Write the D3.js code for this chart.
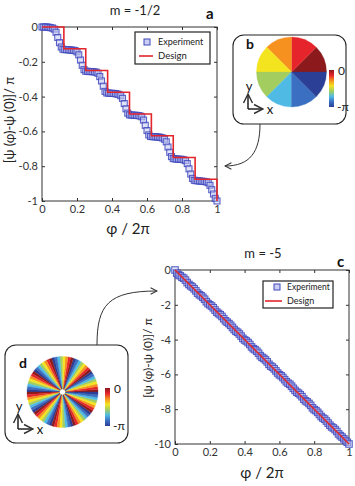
<!DOCTYPE html>
<html><head><meta charset="utf-8">
<script src="https://cdn.jsdelivr.net/npm/d3@7"></script>
<style>
html,body{margin:0;padding:0;background:#fff;}
svg{display:block;font-family:Lato,"Open Sans",sans-serif;}
</style></head><body>
<svg id="fig" width="355" height="486"></svg>
<script>
// ---------- data ----------
const phiExp = [0,0.01,0.02,0.03,0.04,0.05,0.06,0.07,0.08,0.09,0.1,0.11,0.12,0.13,0.14,0.15,0.16,0.17,0.18,0.19,0.2,0.21,0.22,0.23,0.24,0.25,0.26,0.27,0.28,0.29,0.3,0.31,0.32,0.33,0.34,0.35,0.36,0.37,0.38,0.39,0.4,0.41,0.42,0.43,0.44,0.45,0.46,0.47,0.48,0.49,0.5,0.51,0.52,0.53,0.54,0.55,0.56,0.57,0.58,0.59,0.6,0.61,0.62,0.63,0.64,0.65,0.66,0.67,0.68,0.69,0.7,0.71,0.72,0.73,0.74,0.75,0.76,0.77,0.78,0.79,0.8,0.81,0.82,0.83,0.84,0.85,0.86,0.87,0.88,0.89,0.9,0.91,0.92,0.93,0.94,0.95,0.96,0.97,0.98,0.99,1];
const expA = [0,0,0,0,-0.002,-0.004,-0.006,-0.012,-0.03,-0.06,-0.09,-0.115,-0.128,-0.13,-0.13,-0.131,-0.132,-0.133,-0.134,-0.136,-0.143,-0.16,-0.19,-0.22,-0.245,-0.254,-0.255,-0.256,-0.256,-0.257,-0.258,-0.26,-0.266,-0.285,-0.31,-0.34,-0.37,-0.379,-0.38,-0.381,-0.381,-0.382,-0.383,-0.385,-0.388,-0.395,-0.41,-0.44,-0.47,-0.495,-0.505,-0.506,-0.507,-0.507,-0.508,-0.509,-0.511,-0.516,-0.535,-0.565,-0.595,-0.62,-0.629,-0.63,-0.631,-0.631,-0.632,-0.633,-0.635,-0.638,-0.645,-0.66,-0.69,-0.72,-0.745,-0.756,-0.758,-0.759,-0.76,-0.76,-0.761,-0.763,-0.768,-0.785,-0.815,-0.845,-0.87,-0.881,-0.883,-0.884,-0.885,-0.886,-0.887,-0.888,-0.89,-0.895,-0.91,-0.935,-0.96,-0.985,-1];
const designAX = [0,0.125,0.25,0.375,0.5,0.625,0.75,0.875,1];
const designAY = [0,-0.125,-0.25,-0.375,-0.5,-0.625,-0.75,-0.875,-1];

const expC = [0,-0.18,-0.28,-0.33,-0.42,-0.47,-0.58,-0.72,-0.83,-0.91,-0.98,-1.08,-1.2,-1.33,-1.42,-1.48,-1.57,-1.68,-1.82,-1.93,-2.0,-2.07,-2.17,-2.3,-2.42,-2.5,-2.57,-2.67,-2.8,-2.92,-3.0,-3.08,-3.18,-3.3,-3.42,-3.52,-3.58,-3.68,-3.8,-3.93,-4.02,-4.08,-4.17,-4.28,-4.42,-4.52,-4.58,-4.67,-4.78,-4.92,-5.02,-5.08,-5.17,-5.28,-5.42,-5.52,-5.58,-5.68,-5.8,-5.92,-6.02,-6.08,-6.18,-6.3,-6.42,-6.51,-6.57,-6.68,-6.8,-6.92,-7.02,-7.08,-7.17,-7.28,-7.42,-7.52,-7.58,-7.67,-7.78,-7.92,-8.02,-8.08,-8.18,-8.3,-8.42,-8.51,-8.57,-8.68,-8.8,-8.92,-9.02,-9.08,-9.17,-9.28,-9.42,-9.52,-9.6,-9.7,-9.8,-9.9,-10];
const designCX = [0,1];
const designCY = [0,-10];

const xTicks = [0,0.2,0.4,0.6,0.8,1];
const xTickLabels = ["0","0.2","0.4","0.6","0.8","1"];
const aYTicks = [0,-0.2,-0.4,-0.6,-0.8,-1];
const aYTickLabels = ["0","-0.2","-0.4","-0.6","-0.8","-1"];
const cYTicks = [0,-2,-4,-6,-8,-10];
const cYTickLabels = ["0","-2","-4","-6","-8","-10"];
const seriesNames = ["Experiment","Design"];

// phase levels (0 .. -pi) of the 8-level wheel, counter-clockwise from +x
const wheelLevels = [0,1,2,3,4,5,6,7];
const wheelColors = ["#8c1a1c","#e5242b","#f6901f","#f4e41f","#a3cd5f","#4fbbe4","#3b6fc2","#2b3f96"];
const jetStops = ["#8c1a1c","#e5242b","#f6901f","#f4e41f","#a3cd5f","#4fbbe4","#3b6fc2","#2b3f96"];
const wheelDCycles = 10;

// ---------- styles ----------
const RED = "#e3262b";
const MK_STROKE = "#3f48bd";
const MK_FILL = "#c9cef2";
const AX = "#333";

const svg = d3.select("#fig");
const defs = svg.append("defs");
defs.append("marker").attr("id","arr").attr("viewBox","0 0 10 10").attr("refX",9).attr("refY",5)
  .attr("markerWidth",8).attr("markerHeight",8).attr("orient","auto-start-reverse")
  .append("path").attr("d","M1,1 L9,5 L1,9").attr("fill","none").attr("stroke",AX).attr("stroke-width",1.3);
const grad = defs.append("linearGradient").attr("id","jet").attr("x1",0).attr("y1",0).attr("x2",0).attr("y2",1);
jetStops.forEach((c,i)=>grad.append("stop").attr("offset",i/(jetStops.length-1)).attr("stop-color",c));

function panel(cfg){
  const x = d3.scaleLinear().domain([0,1]).range([cfg.left,cfg.right]);
  const y = d3.scaleLinear().domain(cfg.yDomain).range([cfg.bottom,cfg.top]);
  const g = svg.append("g");
  g.append("rect").attr("x",cfg.left).attr("y",cfg.top).attr("width",cfg.right-cfg.left).attr("height",cfg.bottom-cfg.top)
    .attr("fill","none").attr("stroke",AX).attr("stroke-width",1);
  const fs = cfg.tickFont;
  const bx = g.append("g").attr("transform",`translate(0,${cfg.bottom})`)
    .call(d3.axisBottom(x).tickValues(xTicks).tickFormat((d,i)=>xTickLabels[i]).tickSizeInner(-3).tickSizeOuter(0).tickPadding(4));
  const lx = g.append("g").attr("transform",`translate(${cfg.left},0)`)
    .call(d3.axisLeft(y).tickValues(cfg.yTicks).tickFormat((d,i)=>cfg.yTickLabels[i]).tickSizeInner(-3).tickSizeOuter(0).tickPadding(4));
  const tx = g.append("g").attr("transform",`translate(0,${cfg.top})`)
    .call(d3.axisTop(x).tickValues(xTicks).tickFormat("").tickSizeInner(-3).tickSizeOuter(0));
  const rx = g.append("g").attr("transform",`translate(${cfg.right},0)`)
    .call(d3.axisRight(y).tickValues(cfg.yTicks).tickFormat("").tickSizeInner(-3).tickSizeOuter(0));
  [bx,lx,tx,rx].forEach(a=>{a.select(".domain").remove();a.selectAll("line").attr("stroke",AX);
    a.selectAll("text").attr("font-size",fs).attr("fill","#333").attr("font-family","Lato, sans-serif");});
  const s = cfg.mk;
  g.append("g").selectAll("rect").data(phiExp.map((p,i)=>[p,cfg.exp[i]])).join("rect")
    .attr("x",d=>x(d[0])-s/2).attr("y",d=>y(d[1])-s/2).attr("width",s).attr("height",s)
    .attr("fill",MK_FILL).attr("fill-opacity",0.55).attr("stroke",MK_STROKE).attr("stroke-opacity",0.85).attr("stroke-width",1.1);
  const line = d3.line().x(d=>x(d[0])).y(d=>y(d[1])).curve(cfg.curve);
  g.append("path").datum(cfg.desX.map((p,i)=>[p,cfg.desY[i]])).attr("d",line)
    .attr("fill","none").attr("stroke",RED).attr("stroke-width",1.6);
  g.append("text").attr("x",cfg.title[1]).attr("y",cfg.title[2]).attr("text-anchor","middle")
    .attr("font-size",13).attr("fill","#222").text(cfg.title[0]);
  g.append("text").attr("x",cfg.letter[1]).attr("y",cfg.letter[2])
    .attr("font-size",15).attr("font-weight","bold").attr("fill","#111").text(cfg.letter[0]);
  g.append("text").attr("x",cfg.xlab[0]).attr("y",cfg.xlab[1]).attr("text-anchor","middle")
    .attr("font-size",15).attr("fill","#222").text("φ / 2π");
  g.append("text").attr("transform",`translate(${cfg.ylab[0]},${cfg.ylab[1]}) rotate(-90)`).attr("text-anchor","middle")
    .attr("font-size",cfg.ylab[2]).attr("fill","#222").text("[ψ (φ)-ψ (0)]/ π");
  const L = cfg.legend;
  g.append("rect").attr("x",L.x).attr("y",L.y).attr("width",L.w).attr("height",L.h)
    .attr("fill","#fff").attr("stroke","#222").attr("stroke-width",1.2);
  g.append("rect").attr("x",L.mx-3).attr("y",L.my1-3).attr("width",6).attr("height",6)
    .attr("fill",MK_FILL).attr("stroke",MK_STROKE);
  g.append("line").attr("x1",L.lx1).attr("x2",L.lx2).attr("y1",L.my2).attr("y2",L.my2).attr("stroke",RED).attr("stroke-width",1.6);
  g.append("text").attr("x",L.tx).attr("y",L.my1).attr("dy","0.35em").attr("font-size",L.fs).attr("fill","#222").text(seriesNames[0]);
  g.append("text").attr("x",L.tx).attr("y",L.my2).attr("dy","0.35em").attr("font-size",L.fs+0.5).attr("fill","#222").text(seriesNames[1]);
}

panel({left:42,right:217,top:27,bottom:201,yDomain:[-1,0],yTicks:aYTicks,yTickLabels:aYTickLabels,
  exp:expA,desX:designAX,desY:designAY,curve:d3.curveStepAfter,mk:6,tickFont:11,
  title:["m = -1/2",135,15],letter:["a",206,19],xlab:[128,234],ylab:[14,120,13],
  legend:{x:135,y:32,w:75,h:32,mx:147,my1:42,my2:56,lx1:139,lx2:153,tx:158,fs:9}});

panel({left:175,right:349,top:270,bottom:444,yDomain:[-10,0],yTicks:cYTicks,yTickLabels:cYTickLabels,
  exp:expC,desX:designCX,desY:designCY,curve:d3.curveLinear,mk:6.5,tickFont:11,
  title:["m = -5",263,258],letter:["c",337,267],xlab:[262,478],ylab:[152,358,12],
  legend:{x:263,y:281,w:70,h:27,mx:277,my1:287,my2:301,lx1:265,lx2:282,tx:287,fs:8.5}});

function inset(cfg){
  const g = svg.append("g");
  g.append("rect").attr("x",cfg.box[0]).attr("y",cfg.box[1]).attr("width",cfg.box[2]).attr("height",cfg.box[3])
    .attr("rx",11).attr("fill","#fff").attr("stroke","#222").attr("stroke-width",1.1);
  const n = cfg.sectors;
  const step = 2*Math.PI/n;
  const arc = d3.arc().innerRadius(cfg.inner).outerRadius(cfg.r);
  const wg = g.append("g").attr("transform",`translate(${cfg.cx},${cfg.cy})`);
  d3.range(n).forEach(k=>{
    const lvl = wheelLevels[k % wheelLevels.length];
    wg.append("path").attr("d",arc({startAngle:Math.PI/2-(k+1)*step,endAngle:Math.PI/2-k*step}))
      .attr("fill",wheelColors[lvl]).attr("stroke",wheelColors[lvl]).attr("stroke-width",0.3);
  });
  g.append("text").attr("x",cfg.letter[0]).attr("y",cfg.letter[1]).attr("font-size",14).attr("font-weight","bold").attr("fill","#111").text(cfg.letter[2]);
  g.append("rect").attr("x",cfg.cb[0]).attr("y",cfg.cb[1]).attr("width",5).attr("height",cfg.cb[2]).attr("fill","url(#jet)");
  g.append("text").attr("x",cfg.cb[0]+9).attr("y",cfg.cb[1]+5).attr("font-size",12).attr("fill","#222").text("0");
  g.append("text").attr("x",cfg.cb[0]+8).attr("y",cfg.cb[1]+cfg.cb[2]+4).attr("font-size",12).attr("fill","#222").text("-π");
  const [ox,oy] = cfg.o;
  g.append("line").attr("x1",ox).attr("y1",oy).attr("x2",ox).attr("y2",oy-15).attr("stroke","#111").attr("stroke-width",1.4).attr("marker-end","url(#arr)");
  g.append("line").attr("x1",ox).attr("y1",oy).attr("x2",ox+15).attr("y2",oy).attr("stroke","#111").attr("stroke-width",1.4).attr("marker-end","url(#arr)");
  g.append("text").attr("x",ox+1).attr("y",oy-18).attr("text-anchor","middle").attr("font-size",13).attr("fill","#111").text("y");
  g.append("text").attr("x",ox+22).attr("y",oy+5).attr("text-anchor","middle").attr("font-size",13).attr("fill","#111").text("x");
  g.append("path").attr("d",cfg.arrow).attr("fill","none").attr("stroke","#333").attr("stroke-width",1).attr("marker-end","url(#arr)");
}
inset({box:[233,35,113,89],cx:291.5,cy:72,r:35,inner:0,sectors:8,letter:[246,49,"b"],
  cb:[329,70,37],o:[248,109],arrow:"M260,124 C260,152 250,166 225,166"});
inset({box:[5,345,123,98],cx:62.5,cy:392,r:35.5,inner:3,sectors:wheelDCycles*8,letter:[19,368,"d"],
  cb:[105,388,38],o:[18,429],arrow:"M97,345 C97,305 108,291 157,291"});
</script>
</body></html>
